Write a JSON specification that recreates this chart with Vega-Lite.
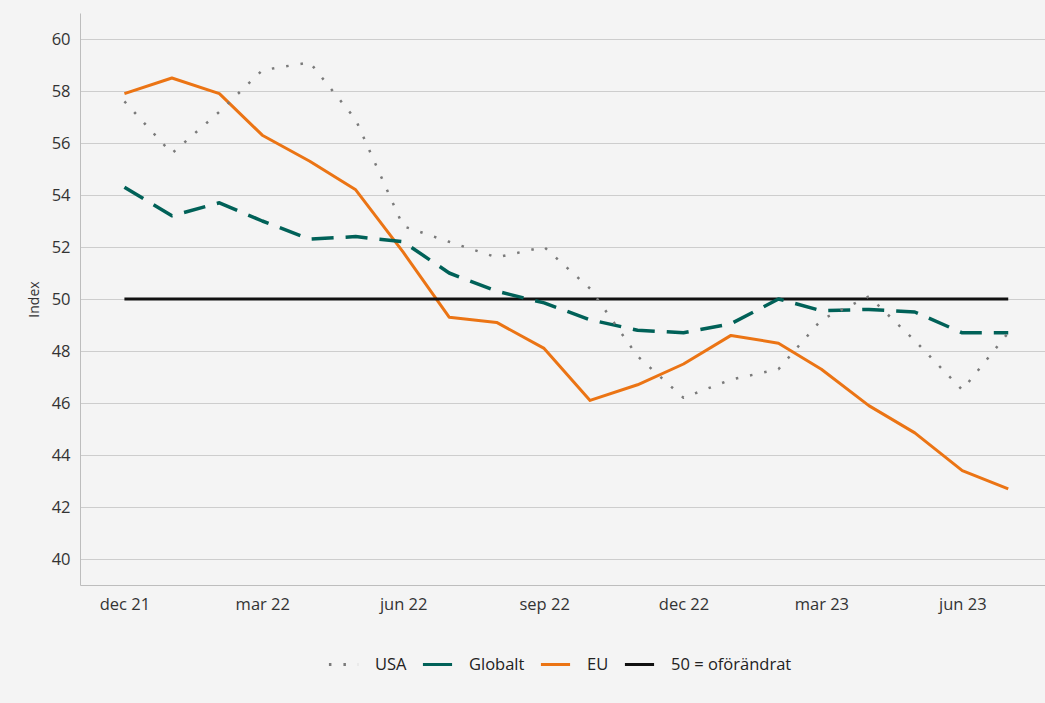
{
  "$schema": "https://vega.github.io/schema/vega-lite/v6.json",
  "width": 965,
  "height": 572,
  "autosize": {"type": "none"},
  "padding": {"left": 80, "top": 13, "right": 0, "bottom": 118},
  "background": "#f4f4f4",
  "config": {"view": {"stroke": null}, "font": "Open Sans"},
  "datasets": {
    "rows": [
      {"month": "2021-12-01", "series": "USA", "value": 57.6},
      {"month": "2022-01-01", "series": "USA", "value": 55.6},
      {"month": "2022-02-01", "series": "USA", "value": 57.2},
      {"month": "2022-03-01", "series": "USA", "value": 58.8},
      {"month": "2022-04-01", "series": "USA", "value": 59.1},
      {"month": "2022-05-01", "series": "USA", "value": 56.9},
      {"month": "2022-06-01", "series": "USA", "value": 52.8},
      {"month": "2022-07-01", "series": "USA", "value": 52.2},
      {"month": "2022-08-01", "series": "USA", "value": 51.6},
      {"month": "2022-09-01", "series": "USA", "value": 52.0},
      {"month": "2022-10-01", "series": "USA", "value": 50.4},
      {"month": "2022-11-01", "series": "USA", "value": 47.8},
      {"month": "2022-12-01", "series": "USA", "value": 46.2},
      {"month": "2023-01-01", "series": "USA", "value": 46.9},
      {"month": "2023-02-01", "series": "USA", "value": 47.3},
      {"month": "2023-03-01", "series": "USA", "value": 49.2},
      {"month": "2023-04-01", "series": "USA", "value": 50.1},
      {"month": "2023-05-01", "series": "USA", "value": 48.4},
      {"month": "2023-06-01", "series": "USA", "value": 46.5},
      {"month": "2023-07-01", "series": "USA", "value": 48.7},
      {"month": "2021-12-01", "series": "Globalt", "value": 54.3},
      {"month": "2022-01-01", "series": "Globalt", "value": 53.2},
      {"month": "2022-02-01", "series": "Globalt", "value": 53.7},
      {"month": "2022-03-01", "series": "Globalt", "value": 53.0},
      {"month": "2022-04-01", "series": "Globalt", "value": 52.3},
      {"month": "2022-05-01", "series": "Globalt", "value": 52.4},
      {"month": "2022-06-01", "series": "Globalt", "value": 52.2},
      {"month": "2022-07-01", "series": "Globalt", "value": 51.0},
      {"month": "2022-08-01", "series": "Globalt", "value": 50.3},
      {"month": "2022-09-01", "series": "Globalt", "value": 49.85},
      {"month": "2022-10-01", "series": "Globalt", "value": 49.2},
      {"month": "2022-11-01", "series": "Globalt", "value": 48.8},
      {"month": "2022-12-01", "series": "Globalt", "value": 48.7},
      {"month": "2023-01-01", "series": "Globalt", "value": 49.05},
      {"month": "2023-02-01", "series": "Globalt", "value": 50.0},
      {"month": "2023-03-01", "series": "Globalt", "value": 49.55},
      {"month": "2023-04-01", "series": "Globalt", "value": 49.6},
      {"month": "2023-05-01", "series": "Globalt", "value": 49.5},
      {"month": "2023-06-01", "series": "Globalt", "value": 48.7},
      {"month": "2023-07-01", "series": "Globalt", "value": 48.7},
      {"month": "2021-12-01", "series": "EU", "value": 57.9},
      {"month": "2022-01-01", "series": "EU", "value": 58.5},
      {"month": "2022-02-01", "series": "EU", "value": 57.9},
      {"month": "2022-03-01", "series": "EU", "value": 56.3},
      {"month": "2022-04-01", "series": "EU", "value": 55.3},
      {"month": "2022-05-01", "series": "EU", "value": 54.2},
      {"month": "2022-06-01", "series": "EU", "value": 51.8},
      {"month": "2022-07-01", "series": "EU", "value": 49.3},
      {"month": "2022-08-01", "series": "EU", "value": 49.1},
      {"month": "2022-09-01", "series": "EU", "value": 48.1},
      {"month": "2022-10-01", "series": "EU", "value": 46.1},
      {"month": "2022-11-01", "series": "EU", "value": 46.7},
      {"month": "2022-12-01", "series": "EU", "value": 47.5},
      {"month": "2023-01-01", "series": "EU", "value": 48.6},
      {"month": "2023-02-01", "series": "EU", "value": 48.3},
      {"month": "2023-03-01", "series": "EU", "value": 47.3},
      {"month": "2023-04-01", "series": "EU", "value": 45.9},
      {"month": "2023-05-01", "series": "EU", "value": 44.85},
      {"month": "2023-06-01", "series": "EU", "value": 43.4},
      {"month": "2023-07-01", "series": "EU", "value": 42.7},
      {"month": "2021-12-01", "series": "50 = oförändrat", "value": 50},
      {"month": "2023-07-01", "series": "50 = oförändrat", "value": 50}
    ]
  },
  "data": {"name": "rows"},
  "encoding": {
    "x": {
      "field": "month",
      "type": "temporal",
      "scale": {
        "type": "utc",
        "domain": [
          {"year": 2021, "month": 11, "date": 2, "utc": true},
          {"year": 2023, "month": 7, "date": 25, "utc": true}
        ]
      },
      "axis": {
        "title": null,
        "values": [
          {"year": 2021, "month": 12, "date": 1, "utc": true},
          {"year": 2022, "month": 3, "date": 1, "utc": true},
          {"year": 2022, "month": 6, "date": 1, "utc": true},
          {"year": 2022, "month": 9, "date": 1, "utc": true},
          {"year": 2022, "month": 12, "date": 1, "utc": true},
          {"year": 2023, "month": 3, "date": 1, "utc": true},
          {"year": 2023, "month": 6, "date": 1, "utc": true}
        ],
        "labelExpr": "lower(utcFormat(datum.value, '%b %y'))",
        "grid": false,
        "ticks": false,
        "domainColor": "#bdbdbd",
        "domainWidth": 1,
        "labelFontSize": 16.5,
        "labelColor": "#333333",
        "labelPadding": 11
      }
    },
    "y": {
      "field": "value",
      "type": "quantitative",
      "scale": {"domain": [39, 61], "nice": false, "zero": false},
      "axis": {
        "title": "Index",
        "titleFontSize": 14,
        "titleFontWeight": "normal",
        "titleColor": "#333333",
        "titlePadding": 10,
        "values": [40, 42, 44, 46, 48, 50, 52, 54, 56, 58, 60],
        "grid": true,
        "gridColor": "#cdcdcd",
        "gridWidth": 1,
        "ticks": false,
        "domainColor": "#bdbdbd",
        "labelFontSize": 16.5,
        "labelColor": "#333333",
        "labelPadding": 10
      }
    },
    "color": {
      "field": "series",
      "type": "nominal",
      "scale": {
        "domain": ["USA", "Globalt", "EU", "50 = oförändrat"],
        "range": ["#7a7a7a", "#006158", "#eb7414", "#111111"]
      },
      "legend": {
        "title": null,
        "orient": "none",
        "legendX": 247,
        "legendY": 635,
        "direction": "horizontal",
        "symbolType": "stroke",
        "symbolSize": 850,
        "symbolStrokeWidth": 3,
        "labelFontSize": 16.5,
        "labelColor": "#222222",
        "labelOffset": 15,
        "columnPadding": 9,
        "encode": {
          "symbols": {
            "update": {
              "strokeDash": {"signal": "datum.value === 'USA' ? [2.5, 12] : [1, 0]"}
            }
          }
        }
      }
    }
  },
  "layer": [
    {
      "transform": [{"filter": "datum.series === 'EU' || datum.series === '50 = oförändrat'"}],
      "mark": {"type": "line", "strokeWidth": 3, "strokeCap": "butt", "strokeJoin": "round"}
    },
    {
      "transform": [{"filter": "datum.series === 'Globalt'"}],
      "mark": {"type": "line", "strokeWidth": 3.5, "strokeDash": [22, 12], "strokeCap": "butt", "strokeJoin": "round"}
    },
    {
      "transform": [{"filter": "datum.series === 'USA'"}],
      "mark": {"type": "line", "strokeWidth": 2.5, "strokeDash": [2.5, 12], "strokeCap": "butt", "strokeJoin": "round"}
    }
  ]
}
